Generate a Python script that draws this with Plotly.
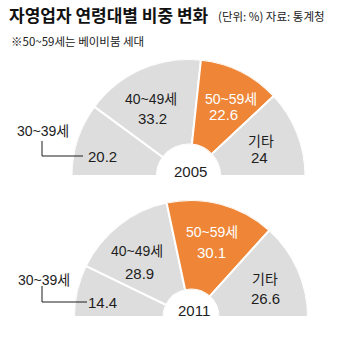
import plotly.graph_objects as go

years = ["2005", "2011"]
groups = ["30~39세", "40~49세", "50~59세", "기타"]
values_2005 = [20.2, 33.2, 22.6, 24]
values_2011 = [14.4, 28.9, 30.1, 26.6]
colors = ["#dddddd", "#dddddd", "#ee8537", "#dddddd"]
text_colors = ["#1e1e1e", "#1e1e1e", "#ffffff", "#1e1e1e"]

W, H = 340, 345
FONT = "Liberation Sans, Arial, Noto Sans CJK KR, sans-serif"
KFONT = "Noto Sans CJK KR, Liberation Sans, sans-serif"


def px(x, y):
    return x / W, 1 - y / H


def thetas(vals):
    total = sum(vals)
    out, w, start = [], [], 0.0
    for v in vals:
        out.append((start + v / 2) / total * 180)
        w.append(v / total * 180)
        start += v
    return out, w


fig = go.Figure()
# polar domains (pixel boxes: left, top, right, bottom)
boxes = [(71.5, 59, 305.5, 176), (74, 200, 308, 317)]
holes = [0.27, 0.235]
for i, (vals, box) in enumerate(zip([values_2005, values_2011], boxes)):
    th, wd = thetas(vals)
    pname = "polar" if i == 0 else "polar2"
    fig.add_trace(go.Barpolar(
        r=[1] * len(vals), theta=th, width=wd,
        marker=dict(color=colors, line=dict(color="white", width=2)),
        subplot=pname, showlegend=False, hoverinfo="skip",
    ))
    x0, y1 = px(box[0], box[1])
    x1, y0 = px(box[2], box[3])
    fig.layout[pname] = dict(
        domain=dict(x=[x0, x1], y=[y0, y1]),
        sector=[0, 180], hole=holes[i], bgcolor="rgba(0,0,0,0)",
        radialaxis=dict(visible=False, range=[0, 1]),
        angularaxis=dict(visible=False, direction="clockwise", rotation=180),
    )

ann = []


def add(text, x, y, size=14, color="#1e1e1e", xanchor="center", family=FONT, bold=False):
    xx, yy = px(x, y)
    t = f"<b>{text}</b>" if bold else text
    ann.append(dict(text=t, x=xx, y=yy, xref="paper", yref="paper", showarrow=False,
                    xanchor=xanchor, yanchor="middle",
                    font=dict(size=size, color=color, family=family)))


add("자영업자 연령대별 비중 변화", 7, 15, size=17, xanchor="left", family=KFONT, bold=True, color="#111111")
add("(단위: %) 자료: 통계청", 216, 16, size=11.5, xanchor="left", family=KFONT, color="#222222")
add("※50~59세는 베이비붐 세대", 9, 41, size=11.5, xanchor="left", family=KFONT, color="#222222")

# label positions (pixel centres) for each chart
label_pos = [
    [(43, 131), (151, 99), (231, 99), (261, 141)],
    [(44, 280), (137, 251), (212, 232), (265, 279)],
]
value_pos = [
    [(103, 156), (152, 118), (223, 115), (259, 157)],
    [(102, 302), (139, 273), (211, 252), (265, 298)],
]
year_pos = [(190, 171), (194, 310)]
for i, vals in enumerate([values_2005, values_2011]):
    for j, g in enumerate(groups):
        add(g, *label_pos[i][j], size=14, color=text_colors[j])
        v = vals[j]
        vt = f"{v:g}"
        add(vt, *value_pos[i][j], size=15, color=text_colors[j])
    add(years[i], *year_pos[i], size=15)

# leader lines for 30~39세
leaders = [((42, 141), (42, 156), (83, 156)), ((42, 286), (42, 302), (87, 302))]
shapes = []
for a, b, c in leaders:
    xa, ya = px(*a)
    xb, yb = px(*b)
    xc, yc = px(*c)
    shapes.append(dict(type="path", xref="paper", yref="paper",
                       path=f"M {xa} {ya} L {xb} {yb} L {xc} {yc}",
                       line=dict(color="#1e1e1e", width=1)))

fig.update_layout(
    width=W, height=H, margin=dict(l=0, r=0, t=0, b=0),
    paper_bgcolor="white", plot_bgcolor="white",
    annotations=ann, shapes=shapes,
)
fig.write_html("out.html")
